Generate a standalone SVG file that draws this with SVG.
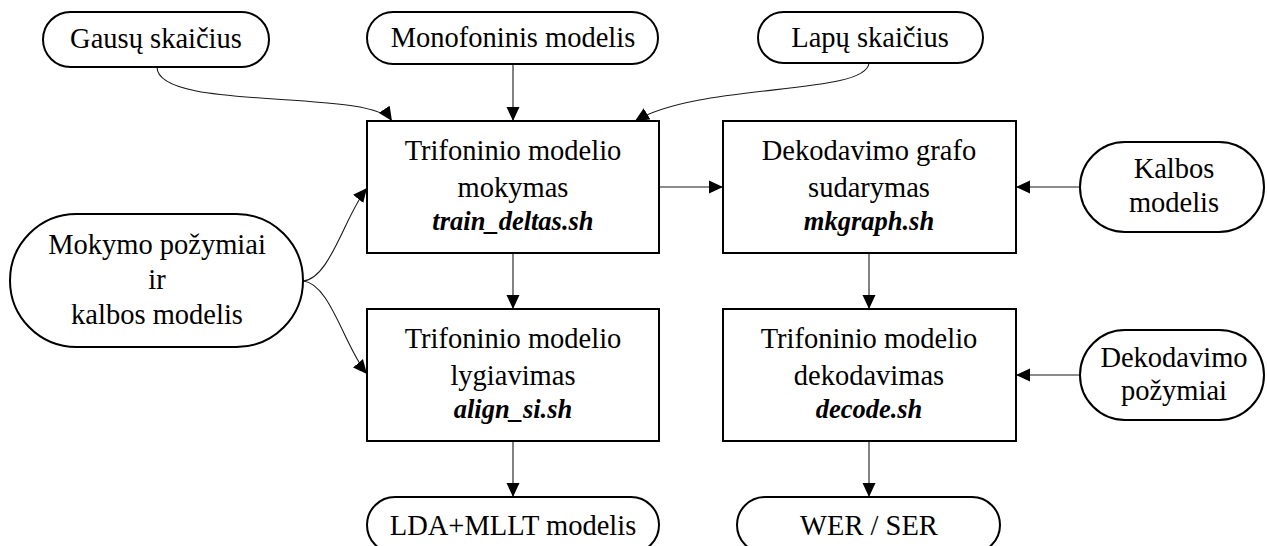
<svg xmlns="http://www.w3.org/2000/svg" width="1267" height="546" viewBox="0 0 1267 546">
  <style>
    .box { fill: #fff; stroke: #000; stroke-width: 2; }
    .pill { fill: #fff; stroke: #000; stroke-width: 2; }
    .t { font-family: 'Liberation Serif', 'Times New Roman', serif; font-size: 28.5px; fill: #000; text-anchor: middle; }
    .s { font-family: 'Liberation Serif', 'Times New Roman', serif; font-size: 26.5px; font-weight: bold; font-style: italic; fill: #000; text-anchor: middle; }
    .edge { fill: none; stroke: #1a1a1a; stroke-width: 1.1; marker-end: url(#arrow); }
  </style>
  <defs>
    <marker id="arrow" markerUnits="userSpaceOnUse" markerWidth="15" markerHeight="14" refX="14" refY="7" orient="auto">
      <path d="M0,0.5 L14,7 L0,13.5 z" fill="#000"/>
    </marker>
  </defs>
  <rect width="1267" height="546" fill="#fff"/>

  <!-- connectors -->
  <g id="edges">
    <path class="edge" d="M157,67 C157,112 370,88 392,121"/>
    <path class="edge" d="M513,64 L513,121"/>
    <path class="edge" d="M869,63 C866,96 700,82 635,121"/>
    <path class="edge" d="M303,281 C330,279 345,215 367,188"/>
    <path class="edge" d="M303,281 C330,283 345,348 367,374"/>
    <path class="edge" d="M659,187 L723,187"/>
    <path class="edge" d="M1080,187 L1016,187"/>
    <path class="edge" d="M513,253 L513,309"/>
    <path class="edge" d="M869,253 L869,309"/>
    <path class="edge" d="M1080,375 L1016,375"/>
    <path class="edge" d="M513,441 L513,497"/>
    <path class="edge" d="M869,441 L869,497"/>
  </g>

  <!-- source nodes, top row -->
  <g id="gausu">
    <rect class="pill" x="43" y="12" width="226" height="55" rx="27.5"/>
    <text class="t" x="156" y="48">Gausų skaičius</text>
  </g>
  <g id="monofoninis">
    <rect class="pill" x="367" y="12" width="291" height="52" rx="26"/>
    <text class="t" x="513" y="47">Monofoninis modelis</text>
  </g>
  <g id="lapu">
    <rect class="pill" x="758" y="12" width="225" height="51" rx="25.5"/>
    <text class="t" x="870" y="47">Lapų skaičius</text>
  </g>

  <g id="mokymo-pozymiai">
    <rect class="pill" x="10" y="214" width="293" height="133" rx="66.5"/>
    <text class="t" x="157" y="254">Mokymo požymiai</text>
    <text class="t" x="157" y="289">ir</text>
    <text class="t" x="157" y="324">kalbos modelis</text>
  </g>

  <!-- processing steps -->
  <g id="mokymas">
    <rect class="box" x="367" y="121" width="292" height="132"/>
    <text class="t" x="513" y="160">Trifoninio modelio</text>
    <text class="t" x="513" y="197">mokymas</text>
    <text class="s" x="513" y="230">train_deltas.sh</text>
  </g>
  <g id="grafas">
    <rect class="box" x="723" y="121" width="293" height="132"/>
    <text class="t" x="869" y="160">Dekodavimo grafo</text>
    <text class="t" x="869" y="197">sudarymas</text>
    <text class="s" x="869" y="230">mkgraph.sh</text>
  </g>
  <g id="lygiavimas">
    <rect class="box" x="367" y="309" width="292" height="132"/>
    <text class="t" x="513" y="348">Trifoninio modelio</text>
    <text class="t" x="513" y="385">lygiavimas</text>
    <text class="s" x="513" y="418">align_si.sh</text>
  </g>
  <g id="dekodavimas">
    <rect class="box" x="723" y="309" width="293" height="132"/>
    <text class="t" x="869" y="348">Trifoninio modelio</text>
    <text class="t" x="869" y="385">dekodavimas</text>
    <text class="s" x="869" y="418">decode.sh</text>
  </g>

  <g id="kalbos-modelis">
    <rect class="pill" x="1080" y="142" width="184" height="90" rx="45"/>
    <text class="t" x="1174" y="178">Kalbos</text>
    <text class="t" x="1174" y="212">modelis</text>
  </g>
  <g id="dekodavimo-pozymiai">
    <rect class="pill" x="1080" y="330" width="184" height="90" rx="45"/>
    <text class="t" x="1174" y="367">Dekodavimo</text>
    <text class="t" x="1174" y="400">požymiai</text>
  </g>

  <!-- outputs, bottom row -->
  <g id="lda-mllt">
    <rect class="pill" x="367" y="497" width="292" height="56" rx="28"/>
    <text class="t" x="513" y="535">LDA+MLLT modelis</text>
  </g>
  <g id="wer-ser">
    <rect class="pill" x="737" y="497" width="263" height="56" rx="28"/>
    <text class="t" x="869" y="535">WER / SER</text>
  </g>
</svg>
